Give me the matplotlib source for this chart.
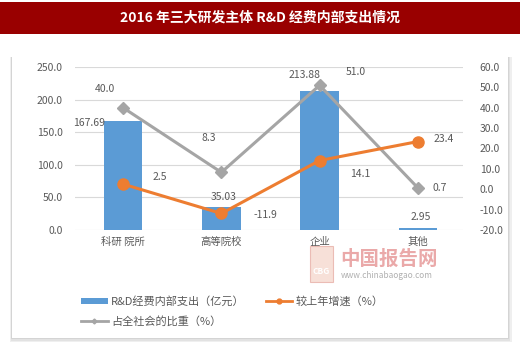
import matplotlib
matplotlib.use("Agg")
import matplotlib.pyplot as plt
from matplotlib.patches import Rectangle
from matplotlib.lines import Line2D
import numpy as np

plt.rcParams['font.family'] = ['Noto Sans CJK SC', 'DejaVu Sans']

categories = ['科研 院所', '高等院校', '企业', '其他']
spending = [167.69, 35.03, 213.88, 2.95]       # 亿元
growth = [2.5, -11.9, 14.1, 23.4]              # 较上年增速 %
share = [40.0, 8.3, 51.0, 0.7]                 # 占全社会比重 %

left_ticks = [0, 50, 100, 150, 200, 250]
right_ticks = [-20, -10, 0, 10, 20, 30, 40, 50, 60]

BLUE = '#5B9BD5'
ORANGE = '#ED7D31'
GRAY = '#A5A5A5'
TXT = '#595959'

W, H = 520, 347
fig = plt.figure(figsize=(W / 100, H / 100), dpi=100)

def fx(px):
    return px / W

def fy(py):
    return 1 - py / H

def bg_rect(x0, y0, x1, y1, **kw):
    # rectangle in pixel coords (y from top), kept behind the axes
    fig.patches.append(Rectangle((fx(x0), fy(y1)), fx(x1) - fx(x0), fy(y0) - fy(y1),
                                 transform=fig.transFigure, zorder=-10, **kw))

# title banner
bg_rect(0, 2, W, 34, facecolor='#990000', edgecolor='none')
fig.text(0.5, fy(18), '2016 年三大研发主体 R&D 经费内部支出情况', color='white',
         fontsize=10, fontweight='bold', ha='center', va='center')

# chart frame with soft shadow
for off, col in [(4, '#EFEFEF'), (2.5, '#E2E2E2'), (1.2, '#D4D4D4')]:
    bg_rect(12 - off / 2, 57, 508 + off, 338 + off, facecolor=col, edgecolor='none')
bg_rect(12, 57, 508, 338, facecolor='white', edgecolor='none')

ax = fig.add_axes([fx(75), fy(230), fx(388), fy(67) - fy(230)])
ax.patch.set_alpha(0)
x = np.arange(len(categories))

ax.bar(x, spending, width=0.39, color=BLUE, zorder=2)
ax.set_ylim(0, 250)
ax.set_yticks(left_ticks)
ax.set_yticklabels([f'{v:.1f}' for v in left_ticks])
ax.set_xlim(-0.49, 3.46)
ax.set_xticks(x)
ax.set_xticklabels(categories, fontsize=8.5)
ax.grid(axis='y', color='#D9D9D9', linewidth=0.8, zorder=0)
for s in ax.spines.values():
    s.set_visible(False)
ax.tick_params(length=0, labelsize=7.5, colors=TXT)
ax.tick_params(axis='y', pad=9)
ax.tick_params(axis='x', pad=5)

ax2 = ax.twinx()
ax2.set_ylim(-20, 60)
ax2.set_yticks(right_ticks)
ax2.set_yticklabels([f'{v:.1f}' for v in right_ticks])
for s in ax2.spines.values():
    s.set_visible(False)
ax2.tick_params(length=0, labelsize=7.5, colors=TXT, pad=12)

ax2.plot(x, share, color=GRAY, linewidth=2.2, marker='D', markersize=6, zorder=3)
ax2.plot(x, growth, color=ORANGE, linewidth=2.2, marker='o', markersize=8, zorder=4)

lab = dict(fontsize=7.5, color=TXT, zorder=6, ha='center', va='center',
           textcoords='offset pixels')
# bar values
bar_off = [(-34, -2), (2, 10), (-15, 16), (3, 11)]
for i, (dx, dy) in enumerate(bar_off):
    ax.annotate(f'{spending[i]:.2f}', (x[i], spending[i]), xytext=(dx, dy), **lab)
# share labels
share_off = [(-18, 19), (-13, 34), (36, 13), (22, 0)]
for i, (dx, dy) in enumerate(share_off):
    ax2.annotate(f'{share[i]:.1f}', (x[i], share[i]), xytext=(dx, dy), **lab)
# growth labels
growth_off = [(37, 7), (44, -2), (41, -13), (26, 3)]
for i, (dx, dy) in enumerate(growth_off):
    ax2.annotate(f'{growth[i]:.1f}', (x[i], growth[i]), xytext=(dx, dy), **lab)

# watermark
fig.text(fx(340), fy(259), '中国报告网', color='#E8A0A0', fontsize=14, fontweight='bold',
         ha='left', va='center', alpha=0.9)
fig.text(fx(341), fy(276), 'www.chinabaogao.com', color='#B0B0B0', fontsize=6,
         ha='left', va='center')
fig.patches.append(Rectangle((fx(310), fy(282)), fx(23), fy(246) - fy(282), transform=fig.transFigure,
                             facecolor='#F6D9CF', edgecolor='#E8B0A8', linewidth=0.8, alpha=0.8))
fig.text(fx(321.5), fy(272), 'CBG', color='white', fontsize=6, fontweight='bold',
         ha='center', va='center')

# legend: ncol=2 fills by column, so the gray line goes second
handles = [
    Rectangle((0, 0), 1, 1, facecolor=BLUE, edgecolor='none'),
    Line2D([], [], color=GRAY, linewidth=2, marker='D', markersize=2.5),
    Line2D([], [], color=ORANGE, linewidth=2, marker='o', markersize=3.5),
]
labels = ['R&D经费内部支出（亿元）', '占全社会的比重（%）', '较上年增速（%）']
fig.legend(handles, labels, loc='upper left', bbox_to_anchor=(fx(71), fy(286)), ncol=2,
           frameon=False, fontsize=8, labelcolor=TXT, handlelength=2.4, handleheight=0.5,
           handletextpad=0.3, columnspacing=1.9, labelspacing=0.8)

fig.savefig('out.png', dpi=100)
